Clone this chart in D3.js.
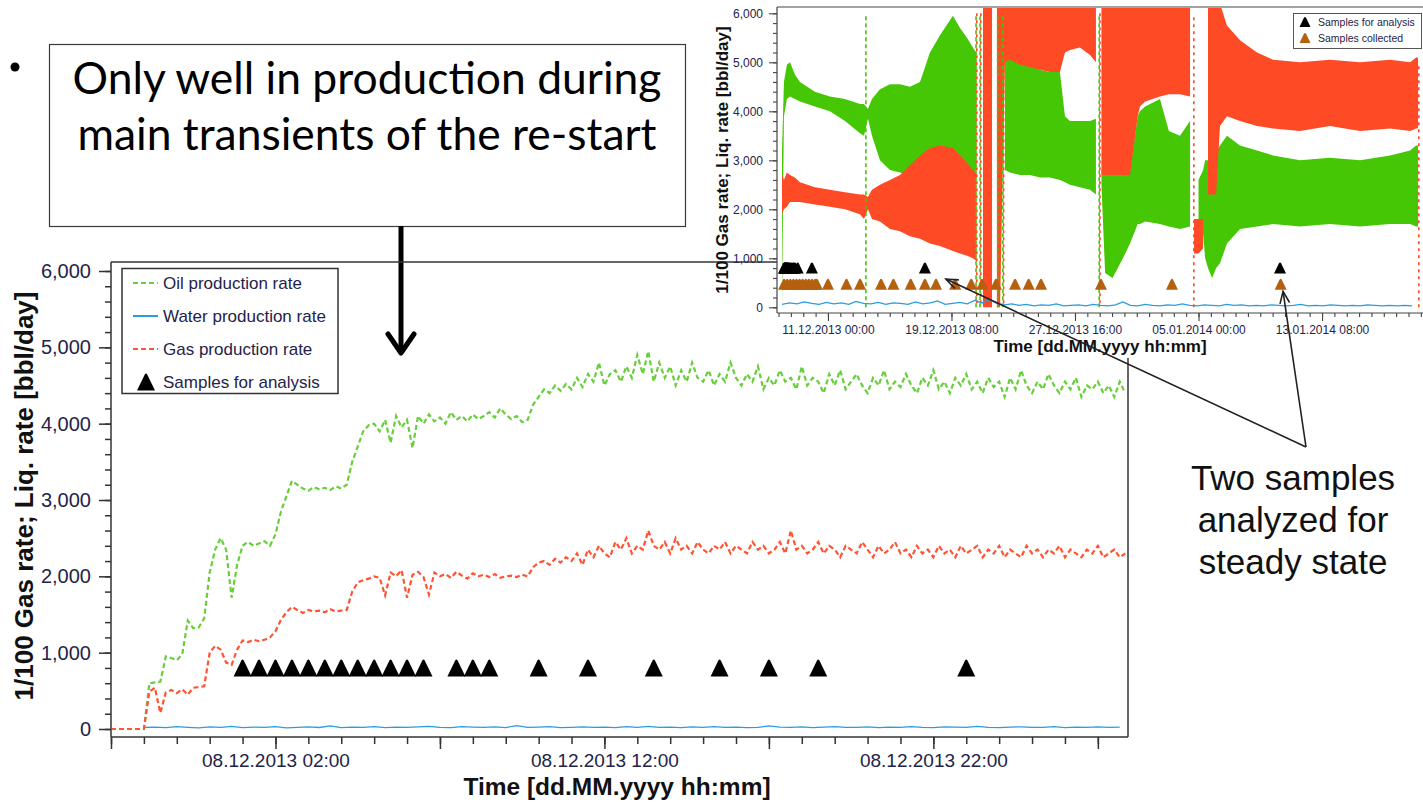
<!DOCTYPE html>
<html>
<head>
<meta charset="utf-8">
<title>Production rates during the re-start</title>
<script src="https://cdn.jsdelivr.net/npm/d3@7/dist/d3.min.js"></script>
<style>
  html, body { margin: 0; padding: 0; background: #fff; }
  svg { display: block; }
</style>
</head>
<body>
<svg id="chart" width="1423" height="802"></svg>
<script>
// ================= data =================
// Detail chart: 10-minute samples starting 07.12.2013 21:00
const mainSeriesStart = "07.12.2013 21:00";
const mainStepMinutes = 10;
const mainDomain = ["07.12.2013 21:00", "09.12.2013 03:55"];

const oilRate = [
  0, 0, 0, 0, 0, 0, 0,
  600, 610, 620,
  950, 930, 900, 980, 1420, 1320, 1330, 1450,
  2050, 2350, 2500, 2350, 1720, 2150, 2400, 2450, 2400, 2430, 2460, 2400,
  2550, 2850, 3050, 3250, 3200, 3150, 3120, 3170, 3140, 3160, 3130, 3180, 3150, 3200,
  3500, 3700, 3900, 3980, 4000, 3900, 4050, 3750, 4100, 3950, 4050, 3680, 4100, 4000, 4120, 4030,
  4080, 4000, 4150, 4050, 4100, 4030, 4120, 4060, 4100, 4150, 4080, 4200, 4120, 4060, 4100, 4020, 4050,
  4250, 4350, 4450, 4400, 4500, 4430, 4520, 4450, 4600, 4480, 4650, 4550, 4800, 4500, 4650, 4700, 4550,
  4750, 4600, 4900, 4650, 4950, 4550, 4800, 4600, 4750, 4500, 4700, 4550, 4800, 4600,
  4550, 4700, 4500, 4650, 4550, 4800, 4600, 4500, 4650, 4550, 4750, 4450, 4600, 4500, 4700, 4550,
  4600, 4450, 4750, 4500, 4600, 4550, 4400, 4650, 4500, 4700, 4450, 4550, 4650, 4500, 4400, 4600,
  4500, 4700, 4450, 4550, 4480, 4650, 4500, 4400, 4600, 4500, 4700, 4450, 4550, 4400, 4600, 4500,
  4650, 4450, 4550, 4400, 4600, 4480, 4550, 4350, 4600, 4450, 4700, 4500, 4400, 4550, 4450, 4650,
  4500, 4400, 4550, 4450, 4600, 4350, 4500, 4450, 4550, 4400, 4500, 4350, 4550, 4400
];

const gasRate = [
  0, 0, 0, 0, 0, 0, 0,
  490, 540, 210, 480, 510, 470, 520, 450, 540, 550, 560,
  1000, 1090, 1040, 870, 840, 1040, 1160, 1140, 1170, 1150, 1170, 1200,
  1280, 1430, 1530, 1600, 1560, 1520, 1560, 1540, 1550, 1530, 1570, 1540, 1550, 1560,
  1800, 1920, 1950, 1970, 2000, 1980, 1750, 2050, 2000, 2080, 1720, 2020, 2060, 1990, 1760, 2050,
  2000, 2030, 1980, 2060, 2010, 1970, 2040, 2000, 2020, 1990, 2030, 1980, 2000, 2010, 1990, 2020, 2000,
  2120, 2180, 2200, 2150, 2230, 2180, 2250, 2200, 2300, 2150, 2350, 2250, 2400, 2300, 2250, 2450, 2350,
  2500, 2300, 2400, 2350, 2600, 2400, 2350, 2450, 2300, 2500, 2350, 2400, 2300, 2450,
  2350, 2300, 2400, 2350, 2450, 2300, 2400, 2350, 2300, 2450, 2350, 2400, 2300, 2350, 2450, 2300,
  2600, 2350, 2400, 2300, 2350, 2450, 2300, 2400, 2350, 2250, 2400, 2350, 2300, 2450, 2350, 2250,
  2400, 2300, 2350, 2450, 2300, 2350, 2250, 2400, 2300, 2350, 2250, 2400, 2300, 2350, 2250, 2400,
  2300, 2350, 2400, 2250, 2350, 2300, 2400, 2250, 2350, 2300, 2250, 2400, 2300, 2350, 2250, 2350,
  2300, 2400, 2250, 2350, 2300, 2250, 2350, 2300, 2400, 2250, 2300, 2350, 2250, 2300
];

// Water: 20-minute samples starting 07.12.2013 22:00
const waterStart = "07.12.2013 22:00";
const waterStepMinutes = 20;
const waterRate = [
  20, 25, 18, 30, 22, 15, 28, 20, 35, 18, 25, 20, 30, 15, 22, 28, 20, 40, 18, 25,
  22, 30, 18, 25, 20, 28, 35, 22, 18, 30, 25, 20, 28, 18, 45, 22, 25, 30, 18, 22,
  28, 20, 25, 18, 30, 22, 35, 20, 25, 18, 28, 22, 30, 20, 25, 18, 22, 40, 25, 20,
  28, 18, 25, 30, 20, 22, 28, 18, 25, 20, 30, 22, 18, 28, 25, 20, 35, 22, 18, 25,
  28, 20, 22, 30, 18, 25, 20, 28, 22, 25
];

const mainYTicks = [0, 1000, 2000, 3000, 4000, 5000, 6000];
const mainXLabels = ["08.12.2013 02:00", "08.12.2013 12:00", "08.12.2013 22:00"];

const analysisSamples = [
  "08.12.2013 01:00", "08.12.2013 01:30", "08.12.2013 02:00", "08.12.2013 02:30",
  "08.12.2013 03:00", "08.12.2013 03:30", "08.12.2013 04:00", "08.12.2013 04:30",
  "08.12.2013 05:00", "08.12.2013 05:30", "08.12.2013 06:00", "08.12.2013 06:30",
  "08.12.2013 07:30", "08.12.2013 08:00", "08.12.2013 08:30", "08.12.2013 10:00",
  "08.12.2013 11:30", "08.12.2013 13:30", "08.12.2013 15:30", "08.12.2013 17:00",
  "08.12.2013 18:30", "08.12.2013 23:00",
  "09.12.2013 22:00", "17.12.2013 13:00", "10.01.2014 12:00"
];
const collectedSamples = [
  "08.12.2013 01:00", "08.12.2013 06:00", "08.12.2013 11:00", "08.12.2013 16:00",
  "08.12.2013 21:00", "09.12.2013 02:00", "09.12.2013 07:00", "09.12.2013 12:00",
  "09.12.2013 17:00", "09.12.2013 22:00", "10.12.2013 03:00", "10.12.2013 06:00",
  "11.12.2013 00:00", "12.12.2013 06:00", "13.12.2013 04:00", "14.12.2013 14:00",
  "15.12.2013 10:00", "16.12.2013 14:00", "17.12.2013 13:00", "18.12.2013 07:00",
  "19.12.2013 14:00", "20.12.2013 16:00", "21.12.2013 10:00", "22.12.2013 08:00",
  "23.12.2013 15:00", "24.12.2013 13:00", "25.12.2013 09:00", "29.12.2013 10:00",
  "03.01.2014 05:00", "10.01.2014 13:00"
];
const analysisLevel = 800;
const collectedLevel = 470;

// Overview chart: rate envelopes (min / max) in days after 07.12.2013 00:00
const insetBase = "07.12.2013 00:00";
const insetDomain = ["07.12.2013 13:30", "20.01.2014 03:30"];
const insetDays = [
  0.90, 1.03, 1.23, 1.44, 1.77, 2.11, 3.12, 4.13, 5.15, 6.16,
  6.43, 6.70, 6.97, 7.51, 8.18, 8.86, 9.53, 10.21, 10.88, 11.56,
  12.43, 12.91, 13.38, 13.78, 13.99, 14.26, 14.46, 15.07, 15.10, 15.40,
  15.61, 15.94, 16.28, 16.96, 17.63, 18.31, 18.98, 19.65, 19.99, 20.33,
  21.00, 21.68, 22.08, 22.35, 22.45, 22.70, 23.20, 23.90, 24.38, 24.90,
  25.05, 25.40, 26.40, 27.00, 27.75, 28.43, 28.55, 28.70, 29.00, 29.31,
  29.45, 29.64, 29.92, 30.19, 30.45, 30.92, 31.80, 32.95, 34.03, 35.85,
  37.87, 39.90, 41.92, 43.28, 43.68, 43.81
];
const insetOilLow = [
  0, 3900, 4250, 4300, 4250, 4200, 4100, 4000, 3800, 3550,
  3500, 3850, 3500, 3000, 2800, 2750, 2700, 2700, 2750, 2700,
  2750, 2750, 2700, 2700, 2800, null, null, null, null, null,
  null, 2800, 2750, 2700, 2700, 2650, 2650, 2600, 2550, 2500,
  2450, 2400, 2300, null, 2500, 700, 600, 1000, 1300, 1700,
  1700, 1750, 1700, 1650, 1600, 1650, null, null, 1500, 1500,
  1000, 800, 600, 800, 900, 1300, 1600, 1650, 1700, 1650,
  1700, 1650, 1700, 1700, 1650, 1650
];
const insetOilHigh = [
  3200, 4600, 4950, 5000, 4750, 4600, 4400, 4300, 4250, 4150,
  4150, 4050, 4250, 4450, 4550, 4550, 4500, 4600, 5200, 5550,
  5950, 5700, 5500, 5300, 5200, null, null, null, null, null,
  null, 5100, 5100, 5000, 4950, 4850, 4800, 4800, 3900, 3800,
  3800, 3800, 3850, null, 2800, 2800, 2800, 2800, 2800, 3900,
  4000, 4100, 4250, 3600, 3500, 3800, null, null, 2600, 2800,
  3000, 3000, 3100, 3200, 3300, 3500, 3300, 3200, 3100, 3000,
  3050, 3000, 3100, 3200, 3300, 3300
];
const insetGasLow = [
  1900, 2000, 2050, 2150, 2150, 2150, 2100, 2050, 2000, 1900,
  1800, 2000, 1800, 1750, 1600, 1550, 1450, 1400, 1300, 1250,
  1150, 1100, 1050, 1000, 950, null, 0, 0, null, 0,
  0, 5000, 5050, 4950, 4900, 4850, 4800, 4800, 5200, 5250,
  5300, 5150, 5000, null, 2700, 2700, 2700, 2700, 2700, 3900,
  4100, 4200, 4300, 4350, 4350, 4300, null, 1100, 1100, 1200,
  null, 2300, 2300, 2300, 3700, 3900, 3800, 3700, 3650, 3600,
  3700, 3600, 3650, 3600, 3650, 3650
];
const insetGasHigh = [
  2700, 2600, 2750, 2700, 2650, 2550, 2450, 2400, 2350, 2300,
  2300, 2250, 2400, 2500, 2600, 2700, 2900, 3100, 3250, 3300,
  3250, 3100, 2950, 2800, 2750, null, 6200, 6200, null, 6200,
  6200, 6200, 6200, 6200, 6200, 6200, 6200, 6200, 6200, 6200,
  6200, 6200, 6200, null, 6200, 6200, 6200, 6200, 6200, 6200,
  6200, 6200, 6200, 6200, 6200, 6200, null, 1800, 1800, 1800,
  null, 6200, 6200, 6200, 6200, 5750, 5450, 5200, 5050, 5000,
  5050, 5000, 5050, 5000, 5100, 5100
];
// Shut-in / re-start spikes (day, peak rate, series)
const insetSpikeDays = [6.56, 13.99, 14.26, 15.45, 15.80, 22.30, 28.63, 43.81];
const insetSpikeTop = [6000, 6000, 6000, 6000, 6000, 6000, 6000, 5000];
const insetSpikeSeries = ["oil", "both", "both", "both", "both", "both", "gas", "gas"];
// Water: half-day samples from day 0.9
const insetWaterStartDay = 0.9;
const insetWaterStepDays = 0.5;
const insetWater = [
  60, 90, 70, 110, 80, 60, 100, 70, 90, 60, 120, 80, 70, 100, 60, 90, 80, 60, 110, 70,
  90, 130, 60, 80, 100, 70, 140, 90, 160, 80, 50, 70, 40, 60, 30, 50, 40, 70, 30, 40,
  50, 30, 60, 40, 30, 50, 110, 40, 30, 60, 40, 30, 50, 40, 70, 40, 30, 50, 40, 30,
  60, 40, 50, 30, 40, 30, 50, 40, 30, 40, 60, 30, 40, 30, 50, 40, 30, 40, 30, 50,
  40, 30, 40, 30, 40, 30
];
const insetYTicks = [0, 1000, 2000, 3000, 4000, 5000, 6000];
const insetXLabels = ["11.12.2013 00:00", "19.12.2013 08:00", "27.12.2013 16:00", "05.01.2014 00:00", "13.01.2014 08:00"];

const legendEntries = ["Oil production rate", "Water production rate", "Gas production rate", "Samples for analysis"];
const insetLegendEntries = ["Samples for analysis", "Samples collected"];
const calloutLines = ["Only well in production during", "main transients of the re-start"];
const noteLines = ["Two samples", "analyzed for", "steady state"];
const yTitle = "1/100 Gas rate; Liq. rate [bbl/day]";
const xTitle = "Time [dd.MM.yyyy hh:mm]";

// ================= drawing =================
const parseT = d3.timeParse("%d.%m.%Y %H:%M");
const fmtT = d3.timeFormat("%d.%m.%Y %H:%M");
const MINUTE = 6e4, HOUR = 36e5, DAY = 864e5;
const SANS = "'Liberation Sans', Arial, Helvetica, sans-serif";
const INK = "#23234a";
const OIL = "#66cf3a", GAS = "#ff5433", WATER = "#2a9ddf";
const OIL_FILL = "#46c706", GAS_FILL = "#fe4a25", BROWN = "#b5600f";

const svg = d3.select("#chart");

const tri = (cx, cy, w, h) =>
  `M${cx - w / 2},${cy + h / 2} L${cx - 1.2},${cy - h / 2 + 1} Q${cx},${cy - h / 2 - 1} ${cx + 1.2},${cy - h / 2 + 1} L${cx + w / 2},${cy + h / 2} Z`;

// ---------- bullet and callout box ----------
svg.append("circle").attr("cx", 15).attr("cy", 67).attr("r", 4.5).attr("fill", "#000");
svg.append("rect").attr("x", 49.5).attr("y", 44.5).attr("width", 636).attr("height", 182)
  .attr("fill", "#fff").attr("stroke", "#3a3a3a").attr("stroke-width", 1.2);
const callout = svg.append("g").attr("font-family", "Lato, 'Open Sans', sans-serif")
  .attr("fill", "#000").attr("text-anchor", "middle");
calloutLines.forEach((s, i) => callout.append("text").attr("x", 367).attr("y", 94 + i * 56)
  .attr("font-size", 44).text(s));
const w0 = callout.select("text").node().getComputedTextLength();
callout.selectAll("text").attr("font-size", 44 * 589 / w0);

// connector arrow from the box down to the chart
svg.append("line").attr("x1", 401).attr("y1", 226).attr("x2", 401).attr("y2", 352)
  .attr("stroke", "#000").attr("stroke-width", 5);
svg.append("path").attr("d", "M388,334 L401,353 L414,334").attr("fill", "none")
  .attr("stroke", "#000").attr("stroke-width", 5).attr("stroke-linecap", "round").attr("stroke-linejoin", "round");

// ---------- main chart ----------
const xM = d3.scaleTime().domain(mainDomain.map(parseT)).range([111, 1128]);
const yM = d3.scaleLinear().domain([0, 6000]).range([729, 271]);
const mainT0 = parseT(mainSeriesStart);
const waterT0 = parseT(waterStart);

svg.append("clipPath").attr("id", "mainClip").append("rect")
  .attr("x", 112).attr("y", 263).attr("width", 1015).attr("height", 473);

const main = svg.append("g");
const plot = main.append("g").attr("clip-path", "url(#mainClip)");

const lineM = d3.line().x(d => xM(d.t)).y(d => yM(d.v));
const oilPts = oilRate.map((v, i) => ({ t: new Date(+mainT0 + i * mainStepMinutes * MINUTE), v }));
const gasPts = gasRate.map((v, i) => ({ t: new Date(+mainT0 + i * mainStepMinutes * MINUTE), v }));
const waterPts = waterRate.map((v, i) => ({ t: new Date(+waterT0 + i * waterStepMinutes * MINUTE), v }));

plot.append("path").datum(waterPts).attr("d", lineM).attr("fill", "none")
  .attr("stroke", WATER).attr("stroke-width", 1.3);
plot.append("path").datum(oilPts).attr("d", lineM).attr("fill", "none")
  .attr("stroke", OIL).attr("stroke-width", 2.2).attr("stroke-dasharray", "5,3");
plot.append("path").datum(gasPts).attr("d", lineM).attr("fill", "none")
  .attr("stroke", GAS).attr("stroke-width", 2.2).attr("stroke-dasharray", "5,3");

const [mStart, mEnd] = xM.domain();
plot.selectAll("path.sample").data(analysisSamples.map(parseT).filter(t => t >= mStart && t <= mEnd))
  .join("path").attr("class", "sample")
  .attr("d", t => tri(xM(t), yM(analysisLevel), 18, 17)).attr("fill", "#000");

// frame
const frame = main.append("g").attr("stroke", "#333").attr("stroke-width", 1.5).attr("fill", "none");
frame.append("line").attr("x1", 111).attr("y1", 262).attr("x2", 777).attr("y2", 262);
frame.append("line").attr("x1", 111).attr("y1", 262).attr("x2", 111).attr("y2", 737);
frame.append("line").attr("x1", 111).attr("y1", 737).attr("x2", 1128).attr("y2", 737);
frame.append("line").attr("x1", 1128).attr("y1", 262).attr("x2", 1128).attr("y2", 737);

// y axis
const styleAxis = (g, size) => {
  g.select(".domain").remove();
  g.selectAll(".tick line").attr("stroke", "#333").attr("stroke-width", 1.5);
  g.selectAll(".tick text").attr("fill", INK).attr("font-family", SANS).attr("font-size", size);
};
main.append("g").attr("transform", "translate(111,0)")
  .call(d3.axisLeft(yM).tickValues(d3.range(0, 6001, 200)).tickSize(6).tickFormat(""))
  .call(g => styleAxis(g, 20));
main.append("g").attr("transform", "translate(111,0)")
  .call(d3.axisLeft(yM).tickValues(mainYTicks).tickSize(12).tickPadding(8).tickFormat(d3.format(",")))
  .call(g => styleAxis(g, 20));

// x axis: hourly minor ticks, 5-hourly major ticks, labels every 10 hours
const hourTicks = d3.timeHour.range(mStart, new Date(+mEnd + 1));
const majorTicks = hourTicks.filter(t => Math.round((t - mStart) / HOUR) % 5 === 0);
const labelSet = new Set(mainXLabels.map(s => +parseT(s)));
main.append("g").attr("transform", "translate(0,737)")
  .call(d3.axisBottom(xM).tickValues(hourTicks).tickSize(7).tickFormat(""))
  .call(g => styleAxis(g, 19));
main.append("g").attr("transform", "translate(0,737)")
  .call(d3.axisBottom(xM).tickValues(majorTicks).tickSize(12).tickPadding(5)
    .tickFormat(t => labelSet.has(+t) ? fmtT(t) : ""))
  .call(g => styleAxis(g, 19));

// titles
main.append("text").attr("transform", "translate(33,496) rotate(-90)").attr("text-anchor", "middle")
  .attr("font-family", SANS).attr("font-weight", "bold").attr("font-size", 26).attr("fill", "#111")
  .text(yTitle);
main.append("text").attr("x", 617).attr("y", 795).attr("text-anchor", "middle")
  .attr("font-family", SANS).attr("font-weight", "bold").attr("font-size", 24.5).attr("fill", "#111")
  .text(xTitle);

// legend
const leg = main.append("g");
leg.append("rect").attr("x", 122).attr("y", 268.5).attr("width", 216).attr("height", 125)
  .attr("fill", "#fff").attr("stroke", "#333").attr("stroke-width", 1.5);
const legY = [283, 316, 349, 382];
legendEntries.forEach((s, i) => {
  leg.append("text").attr("x", 163).attr("y", legY[i] + 6).attr("font-family", SANS)
    .attr("font-size", 17).attr("fill", INK).text(s);
});
leg.append("line").attr("x1", 133).attr("x2", 158).attr("y1", legY[0]).attr("y2", legY[0])
  .attr("stroke", OIL).attr("stroke-width", 2).attr("stroke-dasharray", "5,3");
leg.append("line").attr("x1", 133).attr("x2", 158).attr("y1", legY[1]).attr("y2", legY[1])
  .attr("stroke", WATER).attr("stroke-width", 2);
leg.append("line").attr("x1", 133).attr("x2", 158).attr("y1", legY[2]).attr("y2", legY[2])
  .attr("stroke", GAS).attr("stroke-width", 2).attr("stroke-dasharray", "5,3");
leg.append("path").attr("d", tri(146, legY[3], 18, 17)).attr("fill", "#000");

// ---------- overview chart ----------
const inset = svg.append("g");
inset.append("rect").attr("x", 777).attr("y", 0).attr("width", 646).attr("height", 358).attr("fill", "#fff");

const inBase = parseT(insetBase);
const xI = d3.scaleTime().domain(insetDomain.map(parseT)).range([777, 1423]);
const yI = d3.scaleLinear().domain([0, 6000]).range([307.3, 13.3]);
const dayT = d => new Date(+inBase + d * DAY);

svg.append("clipPath").attr("id", "insetClip").append("rect")
  .attr("x", 778).attr("y", 8).attr("width", 645).attr("height", 304);
const ip = inset.append("g").attr("clip-path", "url(#insetClip)");

const band = (lo, hi) => insetDays.map((d, i) => ({ t: dayT(d), lo: lo[i], hi: hi[i] }));
const areaI = d3.area().defined(p => p.lo != null && p.hi != null)
  .x(p => xI(p.t)).y0(p => yI(p.lo)).y1(p => yI(p.hi));

ip.append("path").datum(band(insetOilLow, insetOilHigh)).attr("d", areaI).attr("fill", OIL_FILL);
ip.append("path").datum(band(insetGasLow, insetGasHigh)).attr("d", areaI).attr("fill", GAS_FILL);

insetSpikeDays.forEach((d, i) => {
  const x = xI(dayT(d)), kind = insetSpikeSeries[i];
  if (kind === "oil" || kind === "both")
    ip.append("line").attr("x1", x).attr("x2", x).attr("y1", yI(0)).attr("y2", yI(insetSpikeTop[i]))
      .attr("stroke", OIL_FILL).attr("stroke-width", 1.6).attr("stroke-dasharray", "4,3");
  if (kind === "gas" || kind === "both")
    ip.append("line").attr("x1", x + 0.8).attr("x2", x + 0.8).attr("y1", yI(0)).attr("y2", yI(insetSpikeTop[i]))
      .attr("stroke", GAS_FILL).attr("stroke-width", 1.6).attr("stroke-dasharray", "3,4")
      .attr("stroke-dashoffset", kind === "both" ? 3 : 0);
});

const waterI = insetWater.map((v, i) => ({ t: dayT(insetWaterStartDay + i * insetWaterStepDays), v }));
ip.append("path").datum(waterI).attr("fill", "none").attr("stroke", WATER).attr("stroke-width", 1.4)
  .attr("d", d3.line().x(d => xI(d.t)).y(d => yI(d.v)));

ip.selectAll("path.coll").data(collectedSamples.map(parseT)).join("path").attr("class", "coll")
  .attr("d", t => tri(xI(t), yI(collectedLevel), 12, 11)).attr("fill", BROWN);
ip.selectAll("path.anal").data(analysisSamples.map(parseT)).join("path").attr("class", "anal")
  .attr("d", t => tri(xI(t), yI(analysisLevel), 12, 11)).attr("fill", "#000");

// overview axes
const iframe = inset.append("g").attr("stroke", "#444").attr("stroke-width", 1.2);
iframe.append("line").attr("x1", 777).attr("x2", 1423).attr("y1", 7).attr("y2", 7);
iframe.append("line").attr("x1", 777).attr("x2", 777).attr("y1", 7).attr("y2", 313);
iframe.append("line").attr("x1", 777).attr("x2", 1423).attr("y1", 313).attr("y2", 313);

const styleIn = g => {
  g.select(".domain").remove();
  g.selectAll(".tick line").attr("stroke", "#444").attr("stroke-width", 1.1);
  g.selectAll(".tick text").attr("fill", INK).attr("font-family", SANS).attr("font-size", 12);
};
inset.append("g").attr("transform", "translate(777,0)")
  .call(d3.axisLeft(yI).tickValues(d3.range(0, 6001, 200)).tickSize(4).tickFormat("")).call(styleIn);
inset.append("g").attr("transform", "translate(777,0)")
  .call(d3.axisLeft(yI).tickValues(insetYTicks).tickSize(8).tickPadding(6).tickFormat(d3.format(","))).call(styleIn);

const [iStart, iEnd] = xI.domain();
const firstLabel = parseT(insetXLabels[0]);
const minorI = d3.range(-4, 60).map(k => new Date(+firstLabel + k * 20 * HOUR)).filter(t => t >= iStart && t <= iEnd);
inset.append("g").attr("transform", "translate(0,313)")
  .call(d3.axisBottom(xI).tickValues(minorI).tickSize(4).tickFormat("")).call(styleIn);
inset.append("g").attr("transform", "translate(0,313)")
  .call(d3.axisBottom(xI).tickValues(insetXLabels.map(parseT)).tickSize(8).tickPadding(4).tickFormat(fmtT)).call(styleIn);

inset.append("text").attr("transform", "translate(728,160) rotate(-90)").attr("text-anchor", "middle")
  .attr("font-family", SANS).attr("font-weight", "bold").attr("font-size", 17).attr("fill", "#111").text(yTitle);
inset.append("text").attr("x", 1100).attr("y", 352).attr("text-anchor", "middle")
  .attr("font-family", SANS).attr("font-weight", "bold").attr("font-size", 17).attr("fill", "#111").text(xTitle);

// overview legend
const ileg = inset.append("g");
ileg.append("rect").attr("x", 1293.5).attr("y", 13.5).attr("width", 128).attr("height", 35)
  .attr("fill", "#fff").attr("stroke", "#555").attr("stroke-width", 1);
[[22, "#000"], [38, BROWN]].forEach(([y, c], i) => {
  ileg.append("path").attr("d", tri(1305, y, 11, 10)).attr("fill", c);
  ileg.append("text").attr("x", 1318).attr("y", y + 4).attr("font-family", SANS).attr("font-size", 10.5)
    .attr("fill", INK).text(insetLegendEntries[i]);
});

// ---------- annotation: two steady-state samples ----------
const note = svg.append("g").attr("font-family", SANS).attr("font-size", 35).attr("fill", "#111")
  .attr("text-anchor", "middle");
noteLines.forEach((s, i) => note.append("text").attr("x", 1293).attr("y", 490 + i * 42).text(s));

const hub = [1306, 447];
const targets = [
  [xI(parseT(analysisSamples[23])) + 21, yI(analysisLevel) + 11],
  [xI(parseT(analysisSamples[24])) + 3, yI(collectedLevel) + 7]
];
const ann = svg.append("g").attr("stroke", "#222").attr("stroke-width", 1.6).attr("fill", "none");
targets.forEach(([tx, ty]) => {
  ann.append("line").attr("x1", hub[0]).attr("y1", hub[1]).attr("x2", tx).attr("y2", ty);
  const a = Math.atan2(ty - hub[1], tx - hub[0]);
  const L = 13, s = 0.38;
  const p1 = [tx - L * Math.cos(a - s), ty - L * Math.sin(a - s)];
  const p2 = [tx - L * Math.cos(a + s), ty - L * Math.sin(a + s)];
  ann.append("path").attr("d", `M${p1} L${tx},${ty} L${p2}`);
});
</script>
</body>
</html>
